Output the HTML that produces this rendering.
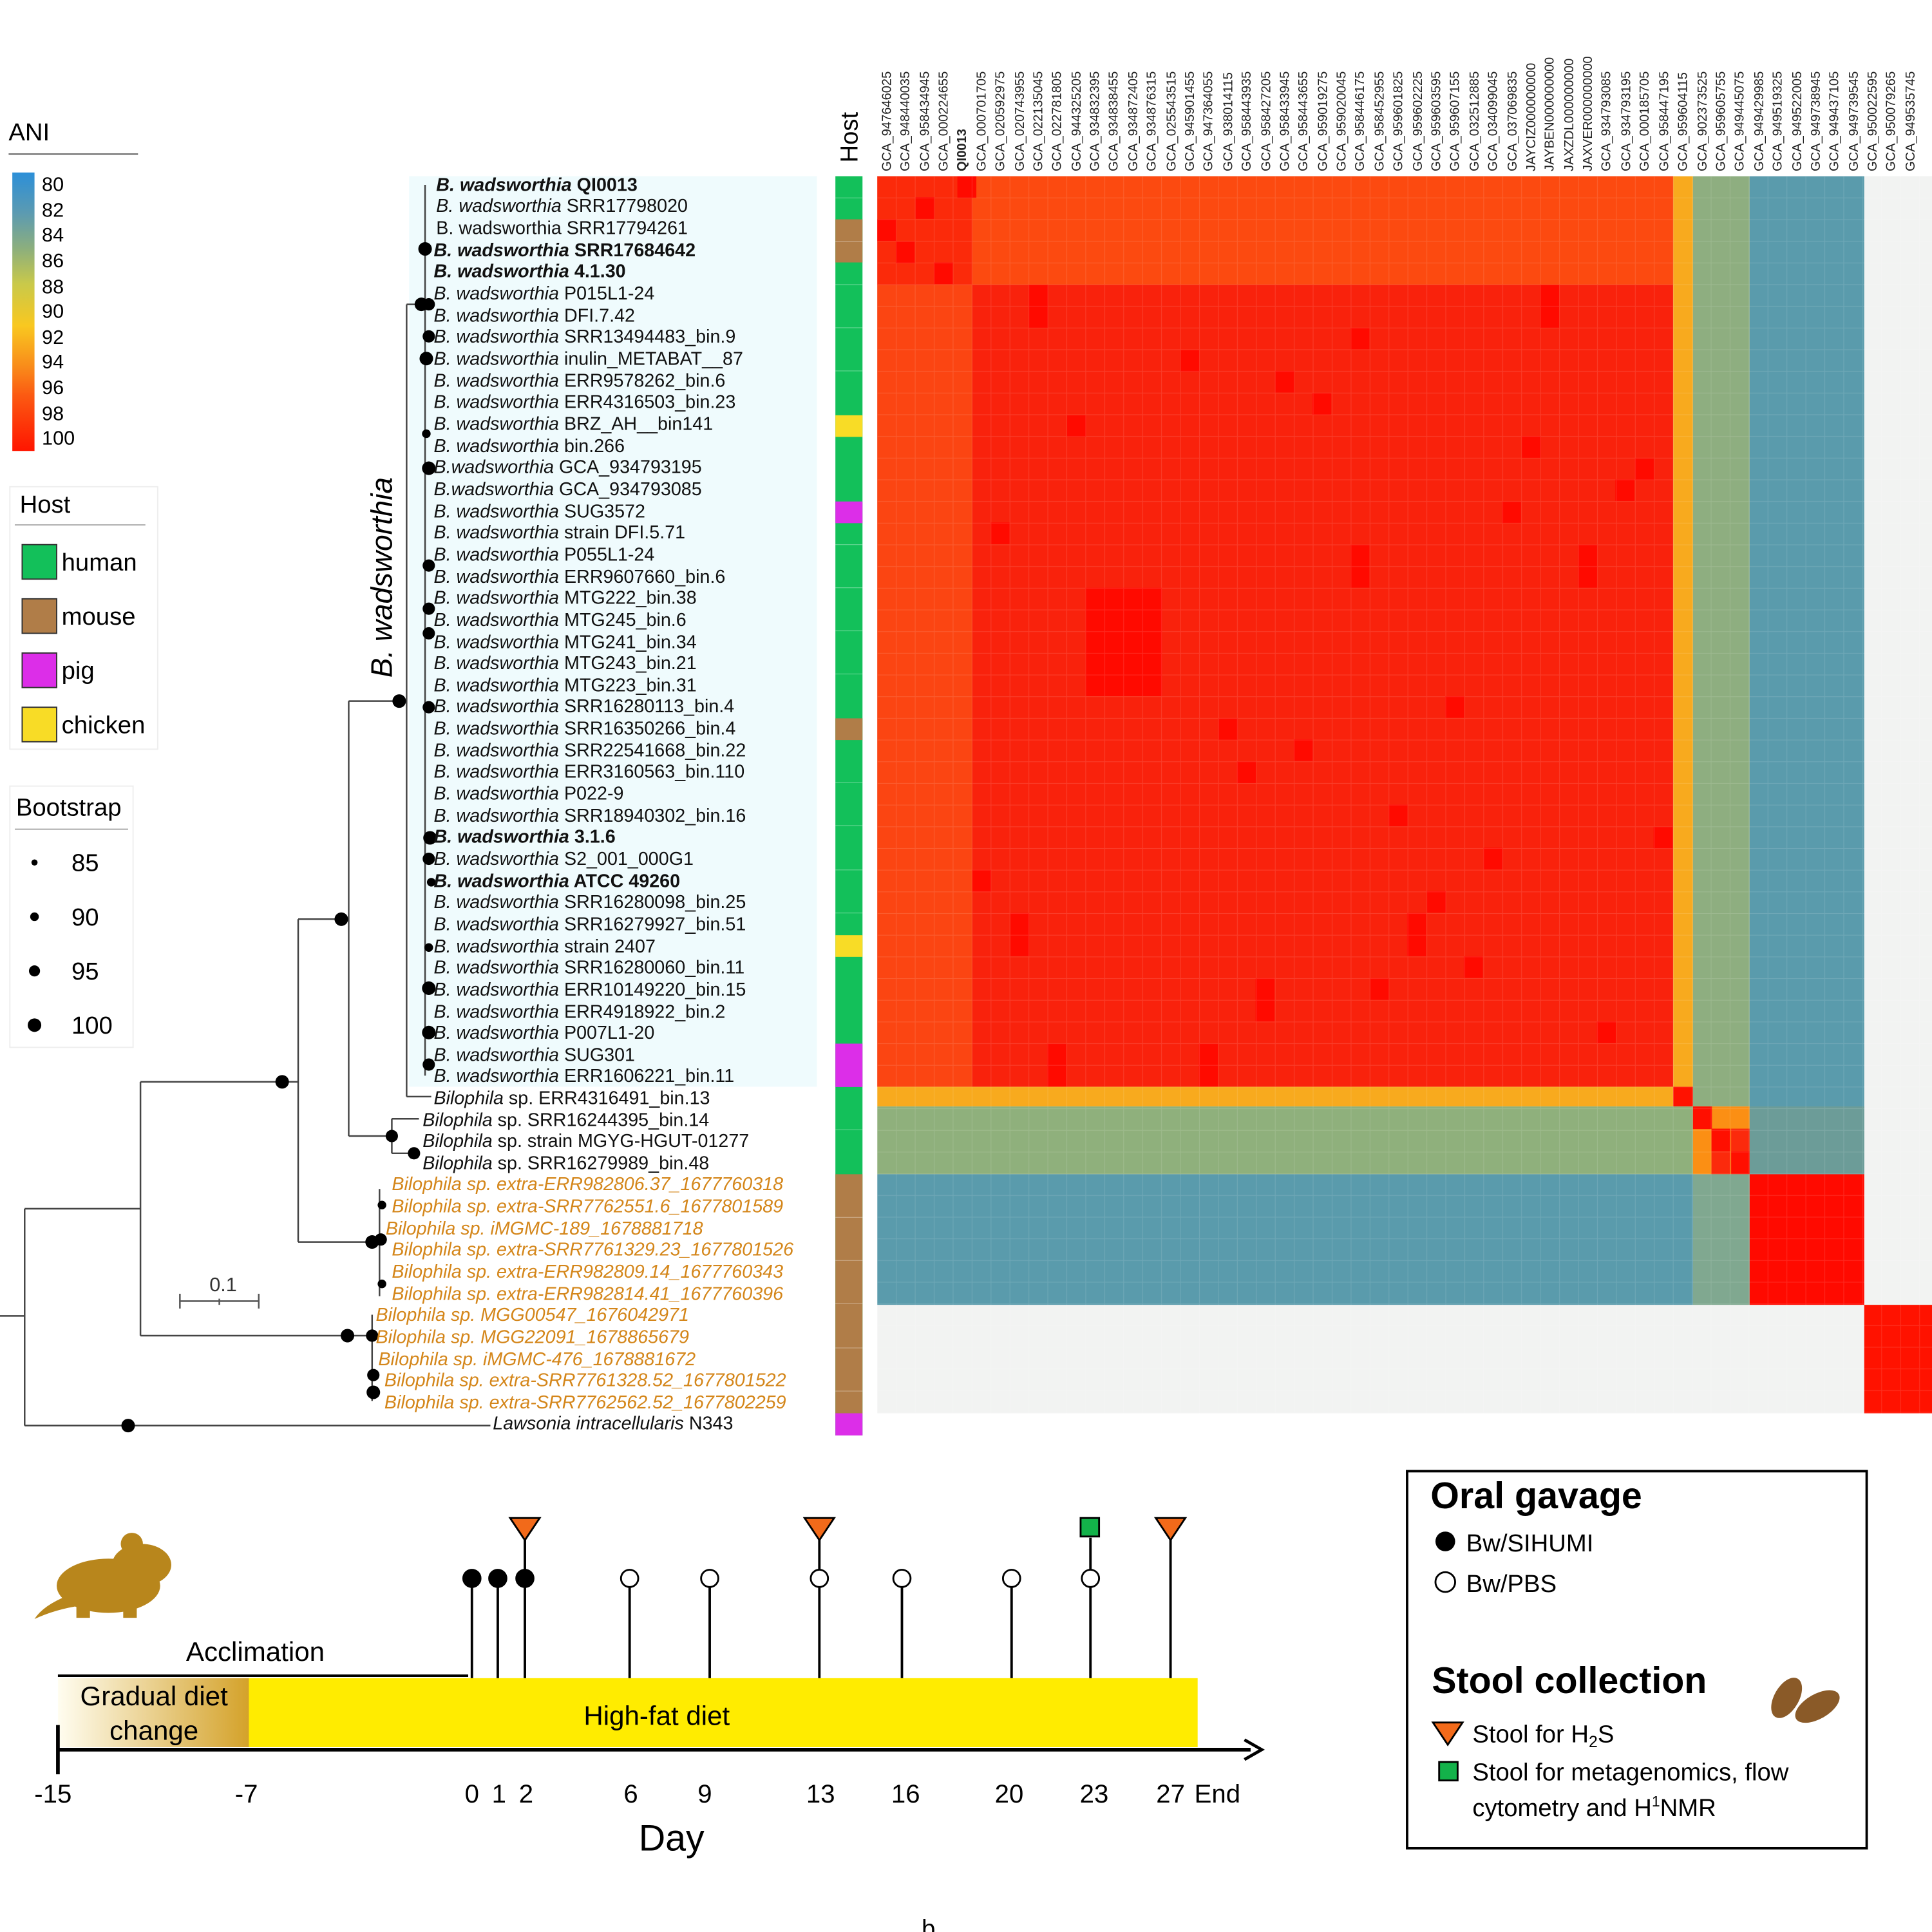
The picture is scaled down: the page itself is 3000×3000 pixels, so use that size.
<!DOCTYPE html>
<html><head><meta charset="utf-8"><style>
html,body{margin:0;padding:0;background:#fff}
svg{display:block}
text{font-family:"Liberation Sans",sans-serif}
.l{font-size:15px;fill:#111}
.o{font-size:15px;fill:#d4861a;font-style:italic}
.c{font-size:10.5px;fill:#222}
</style></head><body>
<svg width="3000" height="3000" viewBox="0 0 1568 1568" xmlns="http://www.w3.org/2000/svg">
<defs>
<linearGradient id="ani" x1="0" y1="1" x2="0" y2="0">
<stop offset="0" stop-color="#ff1500"/><stop offset="0.2" stop-color="#fb5a12"/><stop offset="0.3" stop-color="#f98a1a"/><stop offset="0.45" stop-color="#f9c820"/><stop offset="0.6" stop-color="#c9c94a"/><stop offset="0.72" stop-color="#8fb07a"/><stop offset="0.85" stop-color="#5d9bb0"/><stop offset="1" stop-color="#2c8fd8"/>
</linearGradient>
<linearGradient id="gd" x1="0" y1="0" x2="1" y2="0"><stop offset="0" stop-color="#fffdf0"/><stop offset="1" stop-color="#d4a22a"/></linearGradient>
<pattern id="grid" x="712" y="143" width="15.38" height="17.6" patternUnits="userSpaceOnUse"><rect width="15.38" height="17.6" fill="none" stroke="#ffffff" stroke-opacity="0.12" stroke-width="0.6"/></pattern>
</defs>

<text x="7" y="114" font-size="20">ANI</text>
<line x1="7" y1="125" x2="112" y2="125" stroke="#555"/>
<rect x="10" y="140" width="18" height="226" fill="url(#ani)"/>
<g font-size="16">
<text x="34" y="155">80</text><text x="34" y="176">82</text><text x="34" y="196">84</text><text x="34" y="217">86</text><text x="34" y="238">88</text><text x="34" y="258">90</text><text x="34" y="279">92</text><text x="34" y="299">94</text><text x="34" y="320">96</text><text x="34" y="341">98</text><text x="34" y="361">100</text>
</g>
<rect x="8" y="395" width="120" height="213" fill="#fff" stroke="#eee"/>
<text x="16" y="416" font-size="20">Host</text>
<line x1="12" y1="426" x2="118" y2="426" stroke="#aaa"/>
<rect x="18" y="442" width="28" height="28" fill="#13c05a" stroke="#333"/><text x="50" y="463" font-size="20">human</text>
<rect x="18" y="486" width="28" height="28" fill="#b07d48" stroke="#333"/><text x="50" y="507" font-size="20">mouse</text>
<rect x="18" y="530" width="28" height="28" fill="#dc2ee8" stroke="#333"/><text x="50" y="551" font-size="20">pig</text>
<rect x="18" y="574" width="28" height="28" fill="#f8dc26" stroke="#333"/><text x="50" y="595" font-size="20">chicken</text>
<rect x="8" y="638" width="100" height="212" fill="#fff" stroke="#eee"/>
<text x="13" y="662" font-size="20">Bootstrap</text>
<line x1="12" y1="673" x2="104" y2="673" stroke="#aaa"/>
<circle cx="28" cy="700" r="2.5"/><text x="58" y="707" font-size="20">85</text>
<circle cx="28" cy="744" r="3.5"/><text x="58" y="751" font-size="20">90</text>
<circle cx="28" cy="788" r="4.5"/><text x="58" y="795" font-size="20">95</text>
<circle cx="28" cy="832" r="5.5"/><text x="58" y="839" font-size="20">100</text>

<rect x="332" y="143" width="331" height="739" fill="#effbfd"/>

<g stroke="#444" stroke-width="1.3" fill="none">
<line x1="0" y1="1068" x2="20" y2="1068"/>
<line x1="20" y1="981" x2="20" y2="1157"/>
<line x1="20" y1="1157" x2="398" y2="1157"/>
<line x1="20" y1="981" x2="114" y2="981"/>
<line x1="114" y1="878" x2="114" y2="1084"/>
<line x1="114" y1="878" x2="242" y2="878"/>
<line x1="114" y1="1084" x2="302" y2="1084"/>
<line x1="242" y1="746" x2="242" y2="1008"/>
<line x1="242" y1="746" x2="283" y2="746"/>
<line x1="242" y1="1008" x2="308" y2="1008"/>
<line x1="283" y1="569" x2="283" y2="922"/>
<line x1="283" y1="569" x2="330" y2="569"/>
<line x1="283" y1="922" x2="318" y2="922"/>
<line x1="318" y1="908" x2="318" y2="936"/>
<line x1="318" y1="908" x2="340" y2="908"/>
<line x1="318" y1="936" x2="336" y2="936"/>
<line x1="330" y1="247" x2="330" y2="890"/>
<line x1="330" y1="890" x2="350" y2="890"/>
<line x1="330" y1="247" x2="345" y2="247"/>
<line x1="345" y1="150" x2="345" y2="873"/>
<line x1="308" y1="965" x2="308" y2="1052"/>
<line x1="302" y1="1067" x2="302" y2="1137"/>
</g>
<g fill="#000">
<circle cx="104" cy="1157" r="5.5"/><circle cx="229" cy="878" r="5.5"/><circle cx="282" cy="1084" r="5.5"/><circle cx="277" cy="746" r="5.5"/><circle cx="324" cy="569" r="5.5"/><circle cx="318" cy="922" r="5"/><circle cx="336" cy="936" r="5"/>
<circle cx="302" cy="1008" r="5.5"/><circle cx="309" cy="1006" r="5"/><circle cx="310" cy="978" r="3.5"/><circle cx="310" cy="1042" r="3.5"/>
<circle cx="302" cy="1084" r="5"/><circle cx="303" cy="1116" r="5"/><circle cx="303" cy="1130" r="5.5"/>
<circle cx="345" cy="202" r="5.5"/><circle cx="342" cy="247" r="5.5"/><circle cx="348" cy="247" r="5"/><circle cx="348" cy="273" r="5"/><circle cx="346" cy="291" r="5.5"/><circle cx="346" cy="352" r="3.5"/><circle cx="348" cy="380" r="5.5"/><circle cx="348" cy="459" r="5"/><circle cx="348" cy="494" r="5"/><circle cx="348" cy="514" r="5"/><circle cx="348" cy="574" r="5"/><circle cx="349" cy="680" r="5.5"/><circle cx="348" cy="697" r="5"/><circle cx="348" cy="769" r="3.5"/><circle cx="348" cy="802" r="5.5"/><circle cx="348" cy="838" r="5.5"/><circle cx="348" cy="864" r="5"/><circle cx="350" cy="716" r="3.5"/>
</g>
<g stroke="#555" stroke-width="1.3"><line x1="146" y1="1056" x2="210" y2="1056"/><line x1="146" y1="1050" x2="146" y2="1062"/><line x1="210" y1="1050" x2="210" y2="1062"/><line x1="178" y1="1054" x2="178" y2="1059"/></g>
<text x="170" y="1048" font-size="16" fill="#333">0.1</text>
<text transform="translate(318,550) rotate(-90)" font-size="24" font-style="italic">B. wadsworthia</text>

<g class="l">
<text x="354" y="155" font-weight="bold"><tspan font-style="italic">B. wadsworthia</tspan> QI0013</text>
<text x="354" y="172"><tspan font-style="italic">B. wadsworthia</tspan> SRR17798020</text>
<text x="354" y="190">B. wadsworthia SRR17794261</text>
<text x="352" y="208" font-weight="bold"><tspan font-style="italic">B. wadsworthia</tspan> SRR17684642</text>
<text x="352" y="225" font-weight="bold"><tspan font-style="italic">B. wadsworthia</tspan> 4.1.30</text>
<text x="352" y="243"><tspan font-style="italic">B. wadsworthia</tspan> P015L1-24</text>
<text x="352" y="261"><tspan font-style="italic">B. wadsworthia</tspan> DFI.7.42</text>
<text x="352" y="278"><tspan font-style="italic">B. wadsworthia</tspan> SRR13494483_bin.9</text>
<text x="352" y="296"><tspan font-style="italic">B. wadsworthia</tspan> inulin_METABAT__87</text>
<text x="352" y="314"><tspan font-style="italic">B. wadsworthia</tspan> ERR9578262_bin.6</text>
<text x="352" y="331"><tspan font-style="italic">B. wadsworthia</tspan> ERR4316503_bin.23</text>
<text x="352" y="349"><tspan font-style="italic">B. wadsworthia</tspan> BRZ_AH__bin141</text>
<text x="352" y="367"><tspan font-style="italic">B. wadsworthia</tspan> bin.266</text>
<text x="352" y="384"><tspan font-style="italic">B.wadsworthia</tspan> GCA_934793195</text>
<text x="352" y="402"><tspan font-style="italic">B.wadsworthia</tspan> GCA_934793085</text>
<text x="352" y="420"><tspan font-style="italic">B. wadsworthia</tspan> SUG3572</text>
<text x="352" y="437"><tspan font-style="italic">B. wadsworthia</tspan> strain DFI.5.71</text>
<text x="352" y="455"><tspan font-style="italic">B. wadsworthia</tspan> P055L1-24</text>
<text x="352" y="473"><tspan font-style="italic">B. wadsworthia</tspan> ERR9607660_bin.6</text>
<text x="352" y="490"><tspan font-style="italic">B. wadsworthia</tspan> MTG222_bin.38</text>
<text x="352" y="508"><tspan font-style="italic">B. wadsworthia</tspan> MTG245_bin.6</text>
<text x="352" y="526"><tspan font-style="italic">B. wadsworthia</tspan> MTG241_bin.34</text>
<text x="352" y="543"><tspan font-style="italic">B. wadsworthia</tspan> MTG243_bin.21</text>
<text x="352" y="561"><tspan font-style="italic">B. wadsworthia</tspan> MTG223_bin.31</text>
<text x="352" y="578"><tspan font-style="italic">B. wadsworthia</tspan> SRR16280113_bin.4</text>
<text x="352" y="596"><tspan font-style="italic">B. wadsworthia</tspan> SRR16350266_bin.4</text>
<text x="352" y="614"><tspan font-style="italic">B. wadsworthia</tspan> SRR22541668_bin.22</text>
<text x="352" y="631"><tspan font-style="italic">B. wadsworthia</tspan> ERR3160563_bin.110</text>
<text x="352" y="649"><tspan font-style="italic">B. wadsworthia</tspan> P022-9</text>
<text x="352" y="667"><tspan font-style="italic">B. wadsworthia</tspan> SRR18940302_bin.16</text>
<text x="352" y="684" font-weight="bold"><tspan font-style="italic">B. wadsworthia</tspan> 3.1.6</text>
<text x="352" y="702"><tspan font-style="italic">B. wadsworthia</tspan> S2_001_000G1</text>
<text x="352" y="720" font-weight="bold"><tspan font-style="italic">B. wadsworthia</tspan> ATCC 49260</text>
<text x="352" y="737"><tspan font-style="italic">B. wadsworthia</tspan> SRR16280098_bin.25</text>
<text x="352" y="755"><tspan font-style="italic">B. wadsworthia</tspan> SRR16279927_bin.51</text>
<text x="352" y="773"><tspan font-style="italic">B. wadsworthia</tspan> strain 2407</text>
<text x="352" y="790"><tspan font-style="italic">B. wadsworthia</tspan> SRR16280060_bin.11</text>
<text x="352" y="808"><tspan font-style="italic">B. wadsworthia</tspan> ERR10149220_bin.15</text>
<text x="352" y="826"><tspan font-style="italic">B. wadsworthia</tspan> ERR4918922_bin.2</text>
<text x="352" y="843"><tspan font-style="italic">B. wadsworthia</tspan> P007L1-20</text>
<text x="352" y="861"><tspan font-style="italic">B. wadsworthia</tspan> SUG301</text>
<text x="352" y="878"><tspan font-style="italic">B. wadsworthia</tspan> ERR1606221_bin.11</text>
<text x="352" y="896"><tspan font-style="italic">Bilophila</tspan> sp. ERR4316491_bin.13</text>
<text x="343" y="914"><tspan font-style="italic">Bilophila</tspan> sp. SRR16244395_bin.14</text>
<text x="343" y="931"><tspan font-style="italic">Bilophila</tspan> sp. strain MGYG-HGUT-01277</text>
<text x="343" y="949"><tspan font-style="italic">Bilophila</tspan> sp. SRR16279989_bin.48</text>
<text x="400" y="1160"><tspan font-style="italic">Lawsonia intracellularis</tspan> N343</text>
</g>
<g class="o">
<text x="318" y="966">Bilophila sp. extra-ERR982806.37_1677760318</text>
<text x="318" y="984">Bilophila sp. extra-SRR7762551.6_1677801589</text>
<text x="313" y="1002">Bilophila sp. iMGMC-189_1678881718</text>
<text x="318" y="1019">Bilophila sp. extra-SRR7761329.23_1677801526</text>
<text x="318" y="1037">Bilophila sp. extra-ERR982809.14_1677760343</text>
<text x="318" y="1055">Bilophila sp. extra-ERR982814.41_1677760396</text>
<text x="305" y="1072">Bilophila sp. MGG00547_1676042971</text>
<text x="305" y="1090">Bilophila sp. MGG22091_1678865679</text>
<text x="307" y="1108">Bilophila sp. iMGMC-476_1678881672</text>
<text x="312" y="1125">Bilophila sp. extra-SRR7761328.52_1677801522</text>
<text x="312" y="1143">Bilophila sp. extra-SRR7762562.52_1677802259</text>
</g>

<text transform="translate(696,132) rotate(-90)" font-size="20">Host</text>
<rect x="678" y="143" width="22" height="1022" fill="#13c05a"/>
<rect x="678" y="178" width="22" height="35" fill="#b07d48"/>
<rect x="678" y="337" width="22" height="17.6" fill="#f8dc26"/>
<rect x="678" y="407" width="22" height="17.6" fill="#dc2ee8"/>
<rect x="678" y="583" width="22" height="17.6" fill="#b07d48"/>
<rect x="678" y="759" width="22" height="17.6" fill="#f8dc26"/>
<rect x="678" y="847" width="22" height="35.2" fill="#dc2ee8"/>
<rect x="678" y="953" width="22" height="194" fill="#b07d48"/>
<rect x="678" y="1147" width="22" height="18" fill="#dc2ee8"/>
<g stroke="#fff" stroke-opacity="0.35" stroke-width="0.6">
<line x1="678" y1="160.6" x2="700" y2="160.6"/><line x1="678" y1="195.8" x2="700" y2="195.8"/><line x1="678" y1="231" x2="700" y2="231"/><line x1="678" y1="266" x2="700" y2="266"/><line x1="678" y1="301" x2="700" y2="301"/><line x1="678" y1="442" x2="700" y2="442"/><line x1="678" y1="477" x2="700" y2="477"/><line x1="678" y1="512" x2="700" y2="512"/><line x1="678" y1="547" x2="700" y2="547"/><line x1="678" y1="635" x2="700" y2="635"/><line x1="678" y1="670" x2="700" y2="670"/><line x1="678" y1="706" x2="700" y2="706"/><line x1="678" y1="741" x2="700" y2="741"/><line x1="678" y1="917" x2="700" y2="917"/><line x1="678" y1="988" x2="700" y2="988"/><line x1="678" y1="1023" x2="700" y2="1023"/><line x1="678" y1="1058" x2="700" y2="1058"/><line x1="678" y1="1094" x2="700" y2="1094"/><line x1="678" y1="1129" x2="700" y2="1129"/>
</g>

<rect x="712" y="143" width="856" height="1004" fill="#f2f3f2"/>
<rect x="712" y="143" width="646" height="739" fill="#f9220c"/>
<rect x="712" y="231" width="77" height="651" fill="#fb4512"/>
<rect x="789" y="143" width="569" height="88" fill="#fc4a10"/>
<rect x="712" y="143" width="77" height="88" fill="#fb2a0a"/>
<g fill="#ff0a00">
<rect x="777" y="143" width="15.4" height="17.6"/><rect x="743" y="160" width="15.4" height="17.6"/><rect x="712" y="178" width="15.4" height="17.6"/><rect x="727" y="196" width="15.4" height="17.6"/><rect x="758" y="213" width="15.4" height="17.6"/>
<rect x="835" y="231" width="15.4" height="35"/><rect x="1250" y="231" width="15.4" height="35"/><rect x="1096" y="266" width="15.4" height="17.6"/><rect x="958" y="284" width="15.4" height="17.6"/><rect x="1035" y="301" width="15.4" height="17.6"/><rect x="1065" y="319" width="15.4" height="17.6"/><rect x="866" y="337" width="15.4" height="17.6"/><rect x="1235" y="354" width="15.4" height="17.6"/><rect x="1327" y="372" width="15.4" height="17.6"/><rect x="1311" y="389" width="15.4" height="17.6"/><rect x="1219" y="407" width="15.4" height="17.6"/><rect x="804" y="424" width="15.4" height="17.6"/><rect x="1096" y="442" width="15.4" height="35"/><rect x="1281" y="442" width="15.4" height="35"/>
<rect x="881" y="477" width="62" height="88"/><rect x="1173" y="565" width="15.4" height="17.6"/><rect x="989" y="583" width="15.4" height="17.6"/><rect x="1050" y="600" width="15.4" height="17.6"/><rect x="1004" y="618" width="15.4" height="17.6"/><rect x="1127" y="653" width="15.4" height="17.6"/><rect x="1342" y="671" width="15.4" height="17.6"/><rect x="1204" y="688" width="15.4" height="17.6"/><rect x="789" y="706" width="15.4" height="17.6"/><rect x="1158" y="723" width="15.4" height="17.6"/><rect x="1142" y="741" width="15.4" height="35"/><rect x="820" y="741" width="15.4" height="35"/><rect x="1188" y="776" width="15.4" height="17.6"/><rect x="1019" y="794" width="15.4" height="35"/><rect x="1112" y="794" width="15.4" height="17.6"/><rect x="1296" y="829" width="15.4" height="17.6"/><rect x="850" y="847" width="15.4" height="35"/><rect x="973" y="847" width="15.4" height="35"/>
</g>
<rect x="1358" y="143" width="16" height="739" fill="#f8aa1e"/>
<rect x="712" y="882" width="646" height="16" fill="#f8aa1e"/>
<rect x="1358" y="882" width="16" height="16" fill="#ff1200"/>
<rect x="1374" y="143" width="46" height="755" fill="#8eae80"/>
<rect x="712" y="898" width="662" height="55" fill="#8fb07c"/>
<rect x="1420" y="143" width="93" height="810" fill="#5a9bac"/>
<rect x="1374" y="898" width="46" height="55" fill="#fb8f14"/>
<rect x="1374" y="898" width="15.4" height="18.3" fill="#ff0f00"/><rect x="1389" y="916" width="15.4" height="18.3" fill="#ff0f00"/><rect x="1405" y="934" width="15" height="19" fill="#ff0f00"/><rect x="1405" y="916" width="15" height="18.3" fill="#fb2a0c"/><rect x="1389" y="934" width="15.4" height="19" fill="#fb2a0c"/>
<rect x="1420" y="898" width="93" height="55" fill="#6c9c98"/>
<rect x="712" y="953" width="662" height="106" fill="#5a9bac"/>
<rect x="1374" y="953" width="46" height="106" fill="#80a890"/>
<rect x="1420" y="953" width="93" height="106" fill="#ff0a00"/>
<rect x="1513" y="1059" width="55" height="88" fill="#ff1200"/>
<rect x="712" y="143" width="856" height="1004" fill="url(#grid)"/>

<g class="c">
<text transform="translate(723,139) rotate(-90)">GCA_947646025</text>
<text transform="translate(738,139) rotate(-90)">GCA_948440035</text>
<text transform="translate(754,139) rotate(-90)">GCA_958434945</text>
<text transform="translate(769,139) rotate(-90)">GCA_000224655</text>
<text transform="translate(784,139) rotate(-90)" font-weight="bold">QI0013</text>
<text transform="translate(800,139) rotate(-90)">GCA_000701705</text>
<text transform="translate(815,139) rotate(-90)">GCA_020592975</text>
<text transform="translate(831,139) rotate(-90)">GCA_020743955</text>
<text transform="translate(846,139) rotate(-90)">GCA_022135045</text>
<text transform="translate(861,139) rotate(-90)">GCA_022781805</text>
<text transform="translate(877,139) rotate(-90)">GCA_944325205</text>
<text transform="translate(892,139) rotate(-90)">GCA_934832395</text>
<text transform="translate(907,139) rotate(-90)">GCA_934838455</text>
<text transform="translate(923,139) rotate(-90)">GCA_934872405</text>
<text transform="translate(938,139) rotate(-90)">GCA_934876315</text>
<text transform="translate(954,139) rotate(-90)">GCA_025543515</text>
<text transform="translate(969,139) rotate(-90)">GCA_945901455</text>
<text transform="translate(984,139) rotate(-90)">GCA_947364055</text>
<text transform="translate(1000,139) rotate(-90)">GCA_938014115</text>
<text transform="translate(1015,139) rotate(-90)">GCA_958443935</text>
<text transform="translate(1031,139) rotate(-90)">GCA_958427205</text>
<text transform="translate(1046,139) rotate(-90)">GCA_958433945</text>
<text transform="translate(1061,139) rotate(-90)">GCA_958443655</text>
<text transform="translate(1077,139) rotate(-90)">GCA_959019275</text>
<text transform="translate(1092,139) rotate(-90)">GCA_959020045</text>
<text transform="translate(1107,139) rotate(-90)">GCA_958446175</text>
<text transform="translate(1123,139) rotate(-90)">GCA_958452955</text>
<text transform="translate(1138,139) rotate(-90)">GCA_959601825</text>
<text transform="translate(1154,139) rotate(-90)">GCA_959602225</text>
<text transform="translate(1169,139) rotate(-90)">GCA_959603595</text>
<text transform="translate(1184,139) rotate(-90)">GCA_959607155</text>
<text transform="translate(1200,139) rotate(-90)">GCA_032512885</text>
<text transform="translate(1215,139) rotate(-90)">GCA_034099045</text>
<text transform="translate(1231,139) rotate(-90)">GCA_037069835</text>
<text transform="translate(1246,139) rotate(-90)">JAYCIZ000000000</text>
<text transform="translate(1261,139) rotate(-90)">JAYBEN000000000</text>
<text transform="translate(1277,139) rotate(-90)">JAXZDL000000000</text>
<text transform="translate(1292,139) rotate(-90)">JAXVER000000000</text>
<text transform="translate(1307,139) rotate(-90)">GCA_934793085</text>
<text transform="translate(1323,139) rotate(-90)">GCA_934793195</text>
<text transform="translate(1338,139) rotate(-90)">GCA_000185705</text>
<text transform="translate(1354,139) rotate(-90)">GCA_958447195</text>
<text transform="translate(1369,139) rotate(-90)">GCA_959604115</text>
<text transform="translate(1385,139) rotate(-90)">GCA_902373525</text>
<text transform="translate(1400,139) rotate(-90)">GCA_959605755</text>
<text transform="translate(1415,139) rotate(-90)">GCA_949445075</text>
<text transform="translate(1431,139) rotate(-90)">GCA_949429985</text>
<text transform="translate(1446,139) rotate(-90)">GCA_949519325</text>
<text transform="translate(1462,139) rotate(-90)">GCA_949522005</text>
<text transform="translate(1477,139) rotate(-90)">GCA_949738945</text>
<text transform="translate(1492,139) rotate(-90)">GCA_949437105</text>
<text transform="translate(1508,139) rotate(-90)">GCA_949739545</text>
<text transform="translate(1523,139) rotate(-90)">GCA_950022595</text>
<text transform="translate(1538,139) rotate(-90)">GCA_950079265</text>
<text transform="translate(1554,139) rotate(-90)">GCA_949535745</text>
</g>

<g fill="#b8861c">
<ellipse cx="88" cy="1287" rx="42" ry="22"/>
<ellipse cx="115" cy="1270" rx="24" ry="17"/>
<circle cx="107" cy="1253" r="9"/>
<path d="M55 1295 Q35 1303 28 1314 Q45 1306 66 1303 Z"/>
<rect x="62" y="1300" width="11" height="13"/><rect x="100" y="1300" width="11" height="13"/>
</g>
<text x="151" y="1348" font-size="22">Acclimation</text>
<line x1="47" y1="1360" x2="380" y2="1360" stroke="#000" stroke-width="2"/>
<rect x="47" y="1362" width="155" height="56" fill="url(#gd)"/>
<rect x="202" y="1362" width="770" height="56" fill="#ffec00"/>
<text x="125" y="1384" font-size="22" text-anchor="middle">Gradual diet</text>
<text x="125" y="1412" font-size="22" text-anchor="middle">change</text>
<text x="533" y="1400" font-size="22" text-anchor="middle">High-fat diet</text>
<line x1="47" y1="1420" x2="1015" y2="1420" stroke="#000" stroke-width="3"/>
<line x1="47" y1="1400" x2="47" y2="1440" stroke="#000" stroke-width="3"/>
<path d="M1010 1412 L1024 1420 L1010 1428" fill="none" stroke="#000" stroke-width="2.5"/>
<g font-size="21" text-anchor="middle">
<text x="43" y="1463">-15</text><text x="200" y="1463">-7</text><text x="383" y="1463">0</text><text x="405" y="1463">1</text><text x="427" y="1463">2</text><text x="512" y="1463">6</text><text x="572" y="1463">9</text><text x="666" y="1463">13</text><text x="735" y="1463">16</text><text x="819" y="1463">20</text><text x="888" y="1463">23</text><text x="950" y="1463">27</text><text x="988" y="1463">End</text>
</g>
<text x="545" y="1502" font-size="30" text-anchor="middle">Day</text>
<g stroke="#000" stroke-width="2">
<line x1="383" y1="1281" x2="383" y2="1362"/><line x1="404" y1="1281" x2="404" y2="1362"/><line x1="426" y1="1248" x2="426" y2="1362"/><line x1="511" y1="1281" x2="511" y2="1362"/><line x1="576" y1="1281" x2="576" y2="1362"/><line x1="665" y1="1248" x2="665" y2="1362"/><line x1="732" y1="1281" x2="732" y2="1362"/><line x1="821" y1="1281" x2="821" y2="1362"/><line x1="885" y1="1248" x2="885" y2="1362"/><line x1="950" y1="1248" x2="950" y2="1362"/>
</g>
<g stroke="#000" stroke-width="1.5">
<circle cx="383" cy="1281" r="7" fill="#000"/><circle cx="404" cy="1281" r="7" fill="#000"/><circle cx="426" cy="1281" r="7" fill="#000"/>
<circle cx="511" cy="1281" r="7" fill="#fff"/><circle cx="576" cy="1281" r="7" fill="#fff"/><circle cx="665" cy="1281" r="7" fill="#fff"/><circle cx="732" cy="1281" r="7" fill="#fff"/><circle cx="821" cy="1281" r="7" fill="#fff"/><circle cx="885" cy="1281" r="7" fill="#fff"/>
<path d="M414 1232 L438 1232 L426 1250 Z" fill="#f26a1a"/><path d="M653 1232 L677 1232 L665 1250 Z" fill="#f26a1a"/><path d="M938 1232 L962 1232 L950 1250 Z" fill="#f26a1a"/>
<rect x="877" y="1232" width="15" height="15" fill="#13b24a"/>
</g>
<rect x="1142" y="1194" width="373" height="306" fill="#fff" stroke="#000" stroke-width="2"/>
<text x="1161" y="1224" font-size="30" font-weight="bold">Oral gavage</text>
<circle cx="1173" cy="1251" r="8"/><text x="1190" y="1259" font-size="20">Bw/SIHUMI</text>
<circle cx="1173" cy="1284" r="8" fill="#fff" stroke="#000" stroke-width="1.5"/><text x="1190" y="1292" font-size="20">Bw/PBS</text>
<text x="1162" y="1374" font-size="30" font-weight="bold">Stool collection</text>
<g fill="#8a5a28"><ellipse cx="1450" cy="1378" rx="10" ry="18" transform="rotate(30 1450 1378)"/><ellipse cx="1475" cy="1385" rx="10" ry="20" transform="rotate(60 1475 1385)"/></g>
<path d="M1163 1398 L1187 1398 L1175 1416 Z" fill="#f26a1a" stroke="#000" stroke-width="1.5"/>
<text x="1195" y="1414" font-size="20">Stool for H<tspan font-size="13" dy="4">2</tspan><tspan dy="-4">S</tspan></text>
<rect x="1168" y="1430" width="15" height="15" fill="#13b24a" stroke="#000" stroke-width="1.5"/>
<text x="1195" y="1445" font-size="20">Stool for metagenomics, flow</text>
<text x="1195" y="1474" font-size="20">cytometry and H<tspan font-size="12" dy="-8">1</tspan><tspan dy="8">NMR</tspan></text>
<text x="748" y="1572" font-size="20">b</text>
</svg>
</body></html>
